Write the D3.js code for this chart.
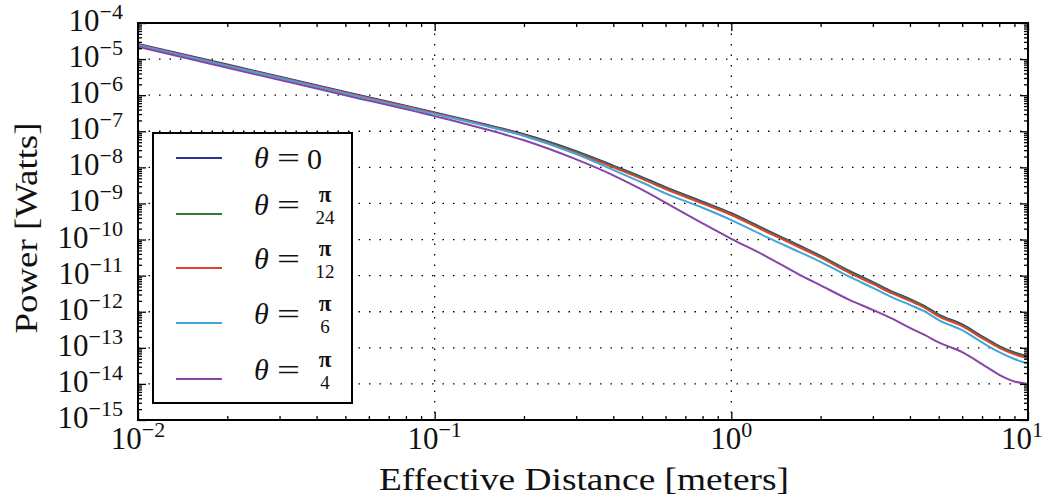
<!DOCTYPE html>
<html><head><meta charset="utf-8">
<script src="https://cdn.jsdelivr.net/npm/d3@7"></script>
<style>html,body{margin:0;padding:0;background:#fff;}svg{display:block;font-family:"Liberation Serif",serif;}</style>
</head><body><svg id="c" width="1044" height="498"></svg>
<script>
// ---- data ----
const distance = [0.01,0.02,0.05,0.1,0.15,0.2,0.3,0.4,0.5,0.6,0.8,1.0,1.3,1.7,2.0,2.5,3.0,3.5,4.0,4.5,5.0,6.0,7.0,8.0,9.0,10];
const powerTheta0 = [2.63e-5,7.08e-6,1.23e-6,3.31e-7,1.51e-7,8.32e-8,2.82e-8,1.12e-8,5.37e-9,2.82e-9,1.12e-9,5.37e-10,1.91e-10,6.76e-11,3.55e-11,1.35e-11,6.61e-12,3.55e-12,2.24e-12,1.41e-12,8.32e-13,4.47e-13,2.09e-13,1.12e-13,7.41e-14,5.75e-14];
const powerThetaPi24 = [2.51e-5,6.76e-6,1.17e-6,3.16e-7,1.44e-7,7.94e-8,2.69e-8,1.07e-8,5.13e-9,2.69e-9,1.07e-9,5.13e-10,1.82e-10,6.46e-11,3.39e-11,1.29e-11,6.31e-12,3.39e-12,2.14e-12,1.35e-12,7.94e-13,4.27e-13,2.0e-13,1.07e-13,7.08e-14,5.5e-14];
const powerThetaPi12 = [2.5e-5,6.7e-6,1.17e-6,3.15e-7,1.42e-7,7.7e-8,2.51e-8,9.98e-9,4.79e-9,2.51e-9,1.0e-9,4.79e-10,1.70e-10,6.03e-11,3.16e-11,1.20e-11,5.89e-12,3.16e-12,2.0e-12,1.26e-12,7.41e-13,3.98e-13,1.86e-13,1.0e-13,6.6e-14,5.12e-14];
const powerThetaPi6 = [2.40e-5,6.46e-6,1.12e-6,3.02e-7,1.38e-7,7.41e-8,2.34e-8,8.51e-9,3.80e-9,1.91e-9,7.59e-10,3.47e-10,1.23e-10,4.47e-11,2.40e-11,9.33e-12,4.57e-12,2.45e-12,1.55e-12,1.0e-12,5.89e-13,3.09e-13,1.41e-13,7.59e-14,4.9e-14,3.63e-14];
const powerThetaPi4 = [2.19e-5,5.75e-6,1.0e-6,2.63e-7,1.12e-7,5.62e-8,1.66e-8,6.03e-9,2.40e-9,1.05e-9,2.82e-10,1.05e-10,3.55e-11,1.05e-11,5.37e-12,2.14e-12,1.12e-12,6.31e-13,3.55e-13,2.24e-13,1.41e-13,7.59e-14,3.55e-14,1.78e-14,1.17e-14,1.0e-14];
const seriesNames = ["0","π/24","π/12","π/6","π/4"];
const seriesColors = ["#2e3192","#2f7a35","#e2412e","#3fa7d6","#8746a6"];
const xTickExps = [-2,-1,0,1];
const yTickExps = [-4,-5,-6,-7,-8,-9,-10,-11,-12,-13,-14,-15];
const xLabel = "Effective Distance [meters]";
const yLabel = "Power [Watts]";

const seriesValues = [powerTheta0,powerThetaPi24,powerThetaPi12,powerThetaPi6,powerThetaPi4];

// ---- layout ----
const L=138,R=1028,T=23,B=420;
const svg=d3.select("#c");
svg.append("rect").attr("width",1044).attr("height",498).attr("fill","#fff");
const x=d3.scaleLog().domain([1e-2,1e1]).range([L,R]);
const y=d3.scaleLog().domain([1e-15,1e-4]).range([B,T]);

// grid
const g=svg.append("g");
[1e-1,1e0].forEach(v=>g.append("line").attr("x1",x(v)).attr("x2",x(v)).attr("y1",T).attr("y2",B)
  .attr("stroke","#000").attr("stroke-width",1.3).attr("stroke-dasharray","1.5,9"));
yTickExps.filter(e=>e<-4&&e>-15).forEach(e=>g.append("line").attr("x1",L).attr("x2",R).attr("y1",y(Math.pow(10,e))).attr("y2",y(Math.pow(10,e)))
  .attr("stroke","#000").attr("stroke-width",1.3).attr("stroke-dasharray","1.5,9"));

// lines
const line=d3.line().x(d=>x(d[0])).y(d=>y(d[1])).curve(d3.curveMonotoneX);
seriesValues.forEach((vals,i)=>{
  svg.append("path").datum(distance.map((d,j)=>[d,vals[j]])).attr("d",line)
    .attr("fill","none").attr("stroke",seriesColors[i]).attr("stroke-width",2);
});

// axes with ticks on all sides (inward)
function minorVals(d0,d1){const out=[];for(let e=d0;e<d1;e++){for(let k=2;k<10;k++)out.push(k*Math.pow(10,e));}return out;}
const xMaj=xTickExps.map(e=>Math.pow(10,e)), yMaj=yTickExps.map(e=>Math.pow(10,e));
const xMin=minorVals(-2,1), yMin=minorVals(-15,-4);
const ax=svg.append("g");
ax.append("g").attr("transform",`translate(0,${B})`).call(d3.axisTop(x).tickValues(xMaj).tickSize(8).tickFormat(""));
ax.append("g").attr("transform",`translate(0,${B})`).call(d3.axisTop(x).tickValues(xMin).tickSize(4).tickFormat(""));
ax.append("g").attr("transform",`translate(0,${T})`).call(d3.axisBottom(x).tickValues(xMaj).tickSize(8).tickFormat(""));
ax.append("g").attr("transform",`translate(0,${T})`).call(d3.axisBottom(x).tickValues(xMin).tickSize(4).tickFormat(""));
ax.append("g").attr("transform",`translate(${L},0)`).call(d3.axisRight(y).tickValues(yMaj).tickSize(8).tickFormat(""));
ax.append("g").attr("transform",`translate(${L},0)`).call(d3.axisRight(y).tickValues(yMin).tickSize(4).tickFormat(""));
ax.append("g").attr("transform",`translate(${R},0)`).call(d3.axisLeft(y).tickValues(yMaj).tickSize(8).tickFormat(""));
ax.append("g").attr("transform",`translate(${R},0)`).call(d3.axisLeft(y).tickValues(yMin).tickSize(4).tickFormat(""));
ax.selectAll(".domain").remove();
ax.selectAll(".tick line").attr("stroke","#000").attr("stroke-width",1.3);
svg.append("rect").attr("x",L).attr("y",T).attr("width",R-L).attr("height",B-T).attr("fill","none").attr("stroke","#000").attr("stroke-width",2);

// tick labels
yTickExps.forEach(e=>{
  const t=svg.append("text").attr("x",123).attr("y",y(Math.pow(10,e))+8).attr("text-anchor","end").attr("font-size",31).attr("fill","#111");
  t.append("tspan").text("10");
  t.append("tspan").attr("dy",-12).attr("font-size",22).text("−"+Math.abs(e));
});
xTickExps.forEach(e=>{
  const t=svg.append("text").attr("x",x(Math.pow(10,e))+ (e===1?-6:0)).attr("y",449).attr("text-anchor","middle").attr("font-size",31).attr("fill","#111");
  t.append("tspan").text("10");
  t.append("tspan").attr("dy",-12).attr("font-size",22).text((e<0?"−":"")+Math.abs(e));
});

// axis labels
svg.append("text").attr("x",584).attr("y",490).attr("text-anchor","middle").attr("font-size",31).attr("fill","#111")
  .attr("textLength",410).attr("lengthAdjust","spacingAndGlyphs").text(xLabel);
svg.append("text").attr("transform","translate(37,228) rotate(-90)").attr("text-anchor","middle").attr("font-size",31).attr("fill","#111")
  .attr("textLength",211).attr("lengthAdjust","spacingAndGlyphs").text(yLabel);

// legend
const lg=svg.append("g");
lg.append("rect").attr("x",153).attr("y",133).attr("width",199).attr("height",270).attr("fill","#fff").attr("stroke","#000").attr("stroke-width",2);
const lineYs=[158,214,268,323,379];
seriesNames.forEach((nm,i)=>{
  const ly=lineYs[i];
  lg.append("line").attr("x1",176).attr("x2",222).attr("y1",ly).attr("y2",ly).attr("stroke",seriesColors[i]).attr("stroke-width",2.2);
  const cy = i===0? ly : ly-9;
  lg.append("text").attr("x",254).attr("y",cy+10).attr("font-size",30).attr("font-style","italic").attr("fill","#111").text("θ");
  lg.append("text").attr("x",277).attr("y",cy+10).attr("font-size",30).attr("fill","#111")
    .attr("textLength",23).attr("lengthAdjust","spacingAndGlyphs").text("=");
  if(i===0){
    lg.append("text").attr("x",307).attr("y",cy+11).attr("font-size",30).attr("fill","#111").text(nm);
  } else {
    const [num,den]=nm.split("/");
    const fx=325;
    lg.append("text").attr("x",fx).attr("y",ly-12).attr("text-anchor","middle").attr("font-size",23).attr("font-weight","bold").attr("fill","#111").text(num);
    lg.append("text").attr("x",fx).attr("y",ly+10).attr("text-anchor","middle").attr("font-size",19).attr("fill","#111").text(den);
  }
});
</script></body></html>
